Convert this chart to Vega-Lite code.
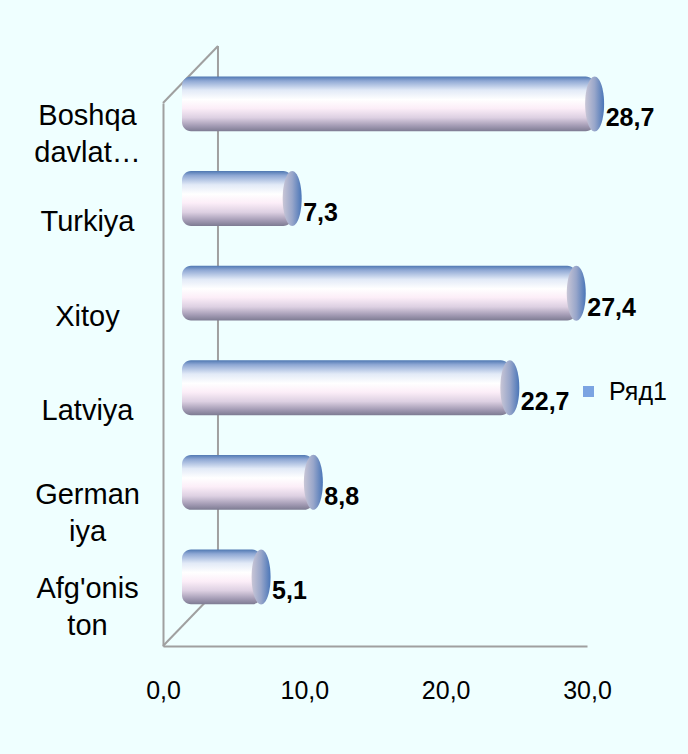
{
  "$schema": "https://vega.github.io/schema/vega-lite/v6.json",
  "width": 424,
  "height": 543,
  "autosize": {"type": "none"},
  "padding": {"left": 163, "top": 103, "right": 101, "bottom": 108},
  "background": "#EFFFFF",
  "config": {
    "view": {"stroke": null},
    "font": "Liberation Sans",
    "locale": {"number": {"decimal": ",", "thousands": " ", "grouping": [3], "currency": ["", ""]}}
  },
  "resolve": {"scale": {"y": "independent"}},
  "layer": [
    {
      "data": {"values": [{}]},
      "layer": [
        {
          "mark": {"type": "rule", "color": "#A0A0A0", "strokeWidth": 2, "x2Offset": 55, "y2Offset": -57},
          "encoding": {
            "x": {"datum": 0, "type": "quantitative", "title": null},
            "x2": {"datum": 0},
            "y": {"datum": 100, "type": "quantitative", "scale": {"domain": [0, 100], "nice": false}, "axis": null},
            "y2": {"datum": 100}
          }
        },
        {
          "mark": {"type": "rule", "color": "#A0A0A0", "strokeWidth": 2, "x2Offset": 55, "y2Offset": -57},
          "encoding": {
            "x": {"datum": 0, "type": "quantitative", "title": null},
            "x2": {"datum": 0},
            "y": {"datum": 0, "type": "quantitative", "scale": {"domain": [0, 100], "nice": false}, "axis": null},
            "y2": {"datum": 0}
          }
        },
        {
          "mark": {"type": "rule", "color": "#A0A0A0", "strokeWidth": 2},
          "encoding": {
            "x": {"datum": 3.89, "type": "quantitative", "title": null},
            "x2": {"datum": 3.89},
            "y": {"datum": 10.5, "type": "quantitative", "scale": {"domain": [0, 100], "nice": false}, "axis": null},
            "y2": {"datum": 110.5}
          }
        }
      ]
    },
    {
      "data": {
        "values": [
          {"country": "Boshqa davlat…", "value": 28.7},
          {"country": "Turkiya", "value": 7.3},
          {"country": "Xitoy", "value": 27.4},
          {"country": "Latviya", "value": 22.7},
          {"country": "Germaniya", "value": 8.8},
          {"country": "Afg'oniston", "value": 5.1}
        ]
      },
      "encoding": {
        "y": {
          "field": "country",
          "type": "nominal",
          "sort": null,
          "scale": {"paddingInner": 0.42, "paddingOuter": 0.08, "align": 0},
          "axis": {
            "title": null,
            "domain": true,
            "domainColor": "#A0A0A0",
            "domainWidth": 2,
            "ticks": false,
            "tickSize": 0,
            "grid": false,
            "labelPadding": 76,
            "labelAlign": "center",
            "labelBaseline": "middle",
            "labelFontSize": 29,
            "labelFont": "Liberation Sans",
            "labelColor": "#000000",
            "labelLineHeight": 37,
            "labelLimit": 200,
            "labelOffset": {"condition": {"test": "datum.value == 'Boshqa davlat…' || datum.value == 'Germaniya' || datum.value == \"Afg'oniston\"", "value": -14}, "value": -3},
            "labelExpr": "datum.value == 'Boshqa davlat…' ? ['Boshqa', 'davlat…'] : datum.value == 'Germaniya' ? ['German', 'iya'] : datum.value == \"Afg'oniston\" ? [\"Afg'onis\", 'ton'] : datum.value"
          }
        }
      },
      "layer": [
        {
          "mark": {
            "type": "bar",
            "cornerRadius": 9,
            "xOffset": 26,
            "x2Offset": 19,
            "yOffset": -26.5,
            "y2Offset": -26.5,
            "stroke": null,
            "fill": {
              "gradient": "linear",
              "x1": 0, "y1": 0, "x2": 0, "y2": 1,
              "stops": [
                {"offset": 0, "color": "#4F78B2"},
                {"offset": 0.08, "color": "#8FA8D4"},
                {"offset": 0.25, "color": "#E2EAF7"},
                {"offset": 0.42, "color": "#FFFFFF"},
                {"offset": 0.58, "color": "#FCEEF8"},
                {"offset": 0.75, "color": "#DDD0E2"},
                {"offset": 0.9, "color": "#A39BB4"},
                {"offset": 1, "color": "#7D7B92"}
              ]
            }
          },
          "encoding": {
            "x": {
              "field": "value",
              "type": "quantitative",
              "scale": {"domain": [0, 30], "nice": false},
              "axis": {
                "title": null,
                "values": [0, 10, 20, 30],
                "format": ".1f",
                "grid": false,
                "ticks": false,
                "tickSize": 0,
                "domain": true,
                "domainColor": "#A0A0A0",
                "domainWidth": 2,
                "labelPadding": 44,
                "labelBaseline": "middle",
                "labelFontSize": 25,
                "labelFont": "Liberation Sans",
                "labelColor": "#000000",
                "labelFlush": false,
                "labelOverlap": false
              }
            },
            "x2": {"datum": 0}
          }
        },
        {
          "mark": {
            "type": "point",
            "shape": "M0,-1A0.345,1,0,1,1,0,1A0.345,1,0,1,1,0,-1Z",
            "size": 3025,
            "filled": true,
            "opacity": 1,
            "strokeWidth": 0,
            "xOffset": 26,
            "yOffset": -26.5,
            "fill": {
              "gradient": "linear",
              "x1": 0, "y1": 0, "x2": 1, "y2": 0,
              "stops": [
                {"offset": 0, "color": "#C9C6D6"},
                {"offset": 0.5, "color": "#98A6CA"},
                {"offset": 1, "color": "#4A76B8"}
              ]
            }
          },
          "encoding": {
            "x": {"field": "value", "type": "quantitative", "title": null}
          }
        },
        {
          "mark": {
            "type": "text",
            "align": "left",
            "baseline": "middle",
            "xOffset": 37,
            "yOffset": -12,
            "fontSize": 25,
            "fontWeight": "bold",
            "font": "Liberation Sans",
            "color": "#000000"
          },
          "encoding": {
            "x": {"field": "value", "type": "quantitative", "title": null},
            "text": {"field": "value", "type": "quantitative", "format": ".1f"}
          }
        },
        {
          "mark": {"type": "square", "opacity": 0},
          "encoding": {
            "x": {"field": "value", "type": "quantitative", "title": null},
            "color": {
              "datum": "Ряд1",
              "type": "nominal",
              "scale": {"range": ["#7BA4E2"]},
              "legend": {
                "orient": "none",
                "legendX": 413,
                "legendY": 276,
                "title": null,
                "padding": 0,
                "symbolType": "square",
                "symbolSize": 121,
                "symbolOpacity": 1,
                "symbolStrokeWidth": 0,
                "labelFontSize": 25,
                "labelFont": "Liberation Sans",
                "labelColor": "#000000",
                "labelOffset": 8
              }
            }
          }
        }
      ]
    }
  ]
}
